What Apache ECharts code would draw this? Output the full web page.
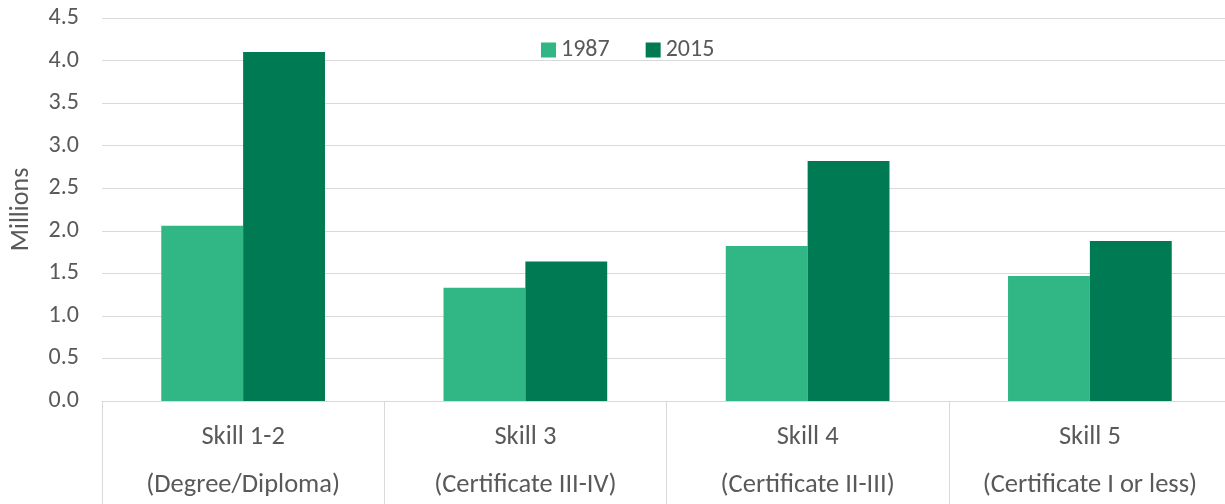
<!DOCTYPE html>
<html>
<head>
<meta charset="utf-8">
<script src="https://cdn.jsdelivr.net/npm/echarts@6/dist/echarts.min.js"></script>
<style>
  html, body { margin: 0; padding: 0; background: #fff; }
  #chart { width: 1225px; height: 504px; }
</style>
</head>
<body>
<div id="chart"></div>
<script>
// skill levels on the x axis
const categories = [
    'Skill 1-2\n(Degree/Diploma)',
    'Skill 3\n(Certificate III-IV)',
    'Skill 4\n(Certificate II-III)',
    'Skill 5\n(Certificate I or less)'
];
const years = ['1987', '2015'];
// employment, millions
const values1987 = [2.06, 1.33, 1.82, 1.47];
const values2015 = [4.10, 1.64, 2.82, 1.88];

const font = 'Carlito, "Open Sans", "Noto Sans", sans-serif';
const grey = '#595959';

const myChart = echarts.init(document.getElementById('chart'));
myChart.setOption({
    animation: false,
    textStyle: { fontFamily: font },
    legend: {
        data: years,
        top: 33,
        left: 536,
        itemWidth: 15,
        itemHeight: 15,
        itemGap: 36,
        icon: 'rect',
        textStyle: { fontSize: 24, color: grey, fontFamily: font }
    },
    grid: { left: 102, top: 18, width: 1129, height: 383, containLabel: false, outerBoundsMode: 'none' },
    xAxis: {
        type: 'category',
        data: categories,
        axisLine: { lineStyle: { color: '#d9d9d9', width: 1 } },
        axisTick: { show: true, interval: 0, length: 104, lineStyle: { color: '#d9d9d9' } },
        axisLabel: {
            interval: 0,
            margin: 12,
            fontSize: 26.5,
            lineHeight: 48,
            color: grey,
            fontFamily: font
        }
    },
    yAxis: {
        type: 'value',
        min: 0,
        max: 4.5,
        interval: 0.5,
        name: 'Millions',
        nameLocation: 'middle',
        nameGap: 68,
        nameRotate: 90,
        nameTextStyle: { fontSize: 26, color: grey, fontFamily: font },
        axisLine: { show: false },
        axisTick: { show: false },
        axisLabel: {
            fontSize: 24,
            color: grey,
            margin: 23,
            fontFamily: font,
            formatter: v => v.toFixed(1)
        },
        splitLine: { lineStyle: { color: '#d9d9d9', width: 1 } }
    },
    series: [
        {
            name: years[0],
            type: 'bar',
            data: values1987,
            barGap: '0%',
            barCategoryGap: '42%',
            itemStyle: { color: '#31B786' }
        },
        {
            name: years[1],
            type: 'bar',
            data: values2015,
            itemStyle: { color: '#007A53' }
        }
    ]
});
</script>
</body>
</html>
